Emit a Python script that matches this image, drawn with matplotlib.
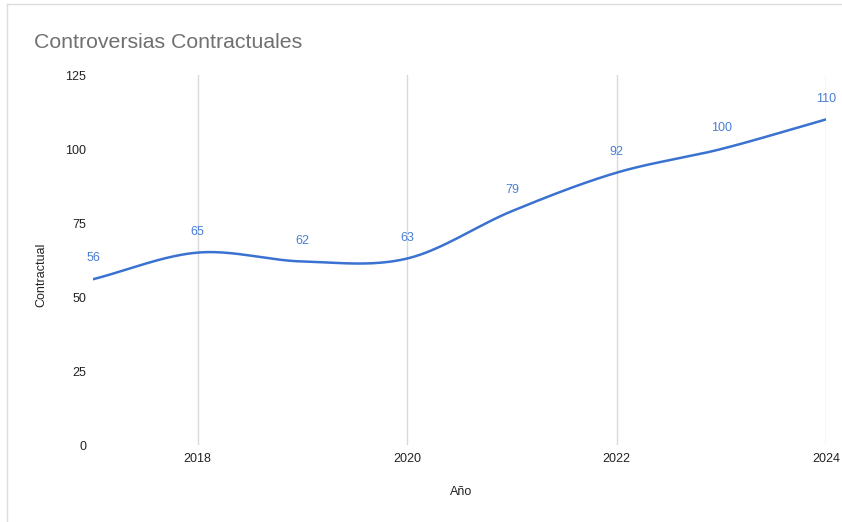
import matplotlib.pyplot as plt
import numpy as np
from matplotlib.lines import Line2D

plt.rcParams["font.family"] = ["Liberation Sans", "DejaVu Sans"]

years = [2017, 2018, 2019, 2020, 2021, 2022, 2023, 2024]
contractual = [56, 65, 62, 63, 79, 92, 100, 110]
y_ticks = [0, 25, 50, 75, 100, 125]
x_ticks = [2018, 2020, 2022, 2024]

LINE_COLOR = "#3a72d1"
LABEL_COLOR = "#4a7fd6"


def catmull_rom(x, y, n=40):
    """Smooth curve through the points (Catmull-Rom spline, end points mirrored)."""
    x = np.asarray(x, dtype=float)
    y = np.asarray(y, dtype=float)
    px = np.concatenate([[2 * x[0] - x[1]], x, [2 * x[-1] - x[-2]]])
    py = np.concatenate([[2 * y[0] - y[1]], y, [2 * y[-1] - y[-2]]])
    xs, ys = [], []
    t = np.linspace(0, 1, n)
    for i in range(1, len(px) - 2):
        for p, out in ((px, xs), (py, ys)):
            p0, p1, p2, p3 = p[i - 1], p[i], p[i + 1], p[i + 2]
            seg = 0.5 * (
                2 * p1
                + (-p0 + p2) * t
                + (2 * p0 - 5 * p1 + 4 * p2 - p3) * t ** 2
                + (-p0 + 3 * p1 - 3 * p2 + p3) * t ** 3
            )
            out.append(seg if i == 1 else seg[1:])
    return np.concatenate(xs), np.concatenate(ys)


fig = plt.figure(figsize=(8.42, 5.22), dpi=100)
ax = fig.add_axes([93 / 842, 1 - 445 / 522, (826 - 93) / 842, 370 / 522])

sx, sy = catmull_rom(years, contractual)
ax.plot(sx, sy, color=LINE_COLOR, linewidth=1.8, solid_capstyle="round", zorder=3)

for x, v in zip(years, contractual):
    ax.annotate(str(v), (x, v), xytext=(0, 15), textcoords="offset points",
                ha="center", va="center", fontsize=9, color=LABEL_COLOR)

ax.set_xlim(2017, 2024)
ax.set_ylim(0, 125)
ax.set_xticks(x_ticks)
ax.set_xticklabels([str(t) for t in x_ticks])
ax.set_yticks(y_ticks)
ax.grid(axis="x", color="#d9d9d9", linewidth=1)
ax.grid(axis="y", visible=False)
ax.tick_params(axis="both", length=0, labelsize=9, colors="#222222")
ax.tick_params(axis="x", pad=6)
ax.tick_params(axis="y", pad=5)
for s in ax.spines.values():
    s.set_visible(False)

ax.set_ylabel("Contractual", fontsize=9, color="#222222")
ax.yaxis.set_label_coords(-0.062, 0.46)
ax.set_xlabel("Año", fontsize=9, color="#222222")
ax.xaxis.set_label_coords(0.502, -0.11)

fig.text(34 / 842, 1 - 42 / 522, "Controversias Contractuales", fontsize=15.3,
         color="#707070", ha="left", va="center")

# thin frame around the chart card
fig.add_artist(Line2D([7 / 842, 1], [1 - 4 / 522, 1 - 4 / 522], transform=fig.transFigure,
                      color="#dcdcdc", linewidth=1))
fig.add_artist(Line2D([7 / 842, 7 / 842], [0, 1 - 4 / 522], transform=fig.transFigure,
                      color="#dcdcdc", linewidth=1))

fig.savefig("out.png", dpi=100)
